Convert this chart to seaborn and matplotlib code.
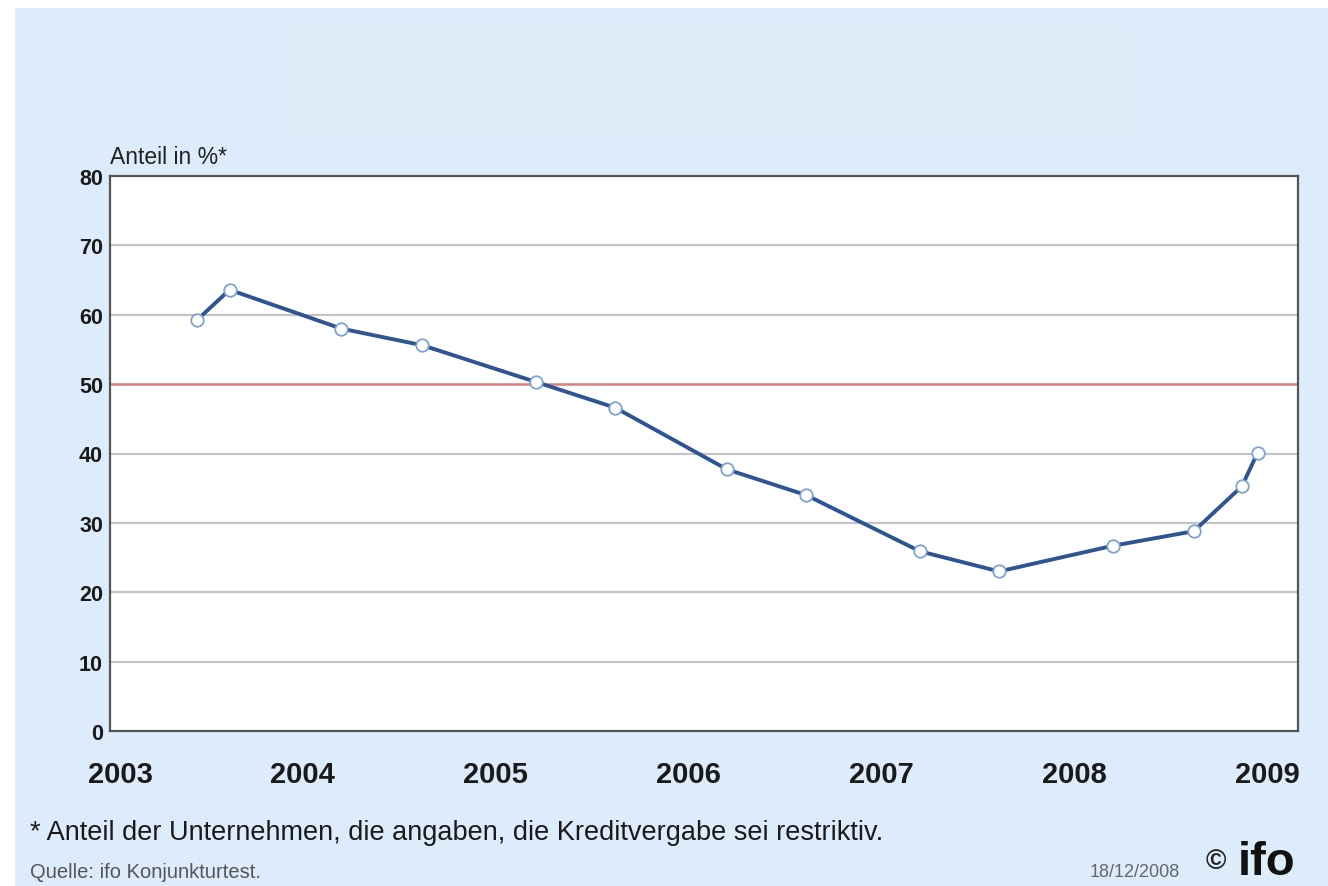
import pandas as pd
import seaborn as sns
from matplotlib import pyplot as plt
from matplotlib.patches import Rectangle
from matplotlib.transforms import ScaledTranslation

# survey dates as decimal years, share of firms reporting restrictive lending (%)
dates = [2003.45, 2003.62, 2004.20, 2004.62, 2005.21, 2005.62, 2006.20,
         2006.61, 2007.20, 2007.61, 2008.20, 2008.62, 2008.87, 2008.95]
share = [59.2, 63.6, 58.0, 55.6, 50.3, 46.6, 37.7,
         34.0, 25.9, 23.0, 26.7, 28.8, 35.3, 40.1]
year_ticks = [2003, 2004, 2005, 2006, 2007, 2008, 2009]
y_ticks = [0, 10, 20, 30, 40, 50, 60, 70, 80]
threshold = 50

df = pd.DataFrame({'datum': dates, 'anteil': share})

sns.set_theme(style='white')
plt.rcParams['font.family'] = ['Liberation Sans', 'DejaVu Sans']

W, H = 1328, 887
fig = plt.figure(figsize=(W / 100, H / 100), dpi=100)
fig.patch.set_facecolor('white')

bg = '#dcecfb'
fig.patches.append(Rectangle((15 / W, 0), 1 - 15 / W, 1 - 9 / H,
                             transform=fig.transFigure, facecolor=bg,
                             edgecolor='none', zorder=-2))
# empty title box
fig.patches.append(Rectangle((295 / W, 1 - 137 / H), 830 / W, 109 / H,
                             transform=fig.transFigure, facecolor='#ddedf5',
                             edgecolor='none', zorder=-1))

ax = fig.add_axes([110 / W, 1 - 732 / H, 1188 / W, 555 / H])
ax.set_facecolor('white')

for v in y_ticks[1:-1]:
    if v != threshold:
        ax.axhline(v, color='#c4c4c4', lw=1.6, zorder=1)
ax.axhline(threshold, color='#d9807f', lw=1.8, zorder=2)

sns.lineplot(data=df, x='datum', y='anteil', ax=ax, color='#2e5493', lw=2.8,
             marker='o', markersize=9, markerfacecolor='white',
             markeredgecolor='#7fa3cf', markeredgewidth=1.3, zorder=3)

ax.set_xlim(2003, 2009.16)
ax.set_ylim(0, 80)
ax.set_xticks(year_ticks)
ax.set_xticklabels([str(y) for y in year_ticks], fontsize=21, fontweight='bold',
                   color='#1a1a1a')
ax.set_yticks(y_ticks)
ax.set_yticklabels([str(v) for v in y_ticks], fontsize=15.5, fontweight='bold',
                   color='#1a1a1a')
ax.tick_params(axis='x', direction='in', length=6, width=1.2, color='#777777', pad=21)
ax.tick_params(axis='y', direction='in', length=5, width=1.2, color='#777777', pad=5)
# first year label sits a little right of the axis corner
lbl0 = ax.get_xticklabels()[0]
lbl0.set_transform(lbl0.get_transform() + ScaledTranslation(0.10, 0, fig.dpi_scale_trans))
ax.set_xlabel('')
ax.set_ylabel('')
for s in ax.spines.values():
    s.set_color('#555555')
    s.set_linewidth(1.6)

fig.text(110 / W, 1 - 158 / H, 'Anteil in %*', fontsize=16.5, color='#222222',
         va='center', ha='left')
fig.text(30 / W, 1 - 833 / H,
         '* Anteil der Unternehmen, die angaben, die Kreditvergabe sei restriktiv.',
         fontsize=19.5, color='#1a1a1a', va='center', ha='left')
fig.text(30 / W, 1 - 873 / H, 'Quelle: ifo Konjunkturtest.', fontsize=14.5,
         color='#555555', va='center', ha='left')
fig.text(1180 / W, 1 - 873 / H, '18/12/2008', fontsize=13, color='#666666',
         va='center', ha='right')
fig.text(1216 / W, 1 - 862 / H, '©', fontsize=20, color='#222222',
         va='center', ha='center', fontweight='bold')
fig.text(1238 / W, 1 - 863 / H, 'ifo', fontsize=34, color='#111111',
         va='center', ha='left', fontweight='heavy')

plt.savefig('out.png', dpi=100, facecolor=fig.get_facecolor())
